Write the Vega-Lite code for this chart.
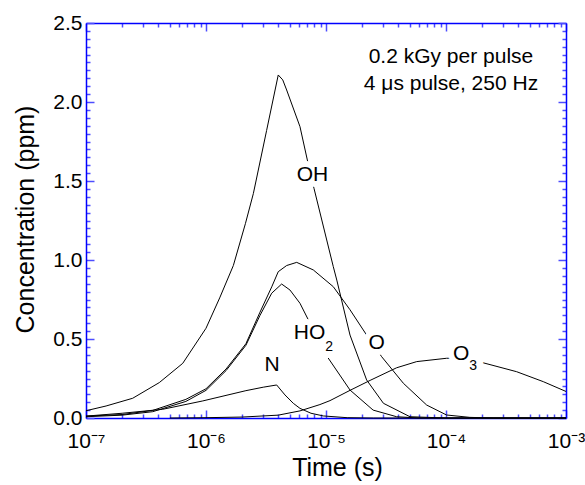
{
  "$schema": "https://vega.github.io/schema/vega-lite/v6.json",
  "width": 480,
  "height": 395,
  "autosize": {"type": "none"},
  "padding": {"left": 86, "top": 23, "right": 19, "bottom": 67},
  "background": "white",
  "config": {
    "view": {"stroke": null},
    "font": "Liberation Sans",
    "axis": {
      "domainColor": "#0000ff",
      "domainWidth": 1.5,
      "tickColor": "#4d4dff",
      "tickWidth": 1.5,
      "labelColor": "black",
      "labelFont": "Liberation Sans",
      "labelFontSize": 21,
      "titleFont": "Liberation Sans",
      "titleFontWeight": "normal",
      "titleColor": "black",
      "grid": false,
      "zindex": 1,
      "labelFlush": false,
      "labelOverlap": false
    }
  },
  "datasets": {
    "curves": [
      {"species": "OH", "t": 1e-7, "c": 0.046},
      {"species": "OH", "t": 1.47e-7, "c": 0.076},
      {"species": "OH", "t": 2.45e-7, "c": 0.125},
      {"species": "OH", "t": 4.08e-7, "c": 0.224},
      {"species": "OH", "t": 6.4e-7, "c": 0.346},
      {"species": "OH", "t": 1e-6, "c": 0.568},
      {"species": "OH", "t": 1.3e-6, "c": 0.76},
      {"species": "OH", "t": 1.69e-6, "c": 0.965},
      {"species": "OH", "t": 2.13e-6, "c": 1.23},
      {"species": "OH", "t": 2.48e-6, "c": 1.42},
      {"species": "OH", "t": 3.2e-6, "c": 1.82},
      {"species": "OH", "t": 4.0e-6, "c": 2.171},
      {"species": "OH", "t": 4.36e-6, "c": 2.14},
      {"species": "OH", "t": 4.7e-6, "c": 2.076},
      {"species": "OH", "t": 6.07e-6, "c": 1.844},
      {"species": "OH", "t": 6.99e-6, "c": 1.633},
      {"species": "OH", "t": 7.94e-6, "c": 1.454},
      {"species": "OH", "t": 1.15e-5, "c": 0.958},
      {"species": "OH", "t": 1.23e-5, "c": 0.873},
      {"species": "OH", "t": 1.585e-5, "c": 0.525},
      {"species": "OH", "t": 2.18e-5, "c": 0.241},
      {"species": "OH", "t": 3.01e-5, "c": 0.093},
      {"species": "OH", "t": 5.01e-5, "c": 0.008},
      {"species": "OH", "t": 1e-4, "c": 0},
      {"species": "OH", "t": 1e-3, "c": 0},
      {"species": "O", "t": 1e-7, "c": 0.012},
      {"species": "O", "t": 2e-7, "c": 0.022},
      {"species": "O", "t": 3.6e-7, "c": 0.048},
      {"species": "O", "t": 6.8e-7, "c": 0.118},
      {"species": "O", "t": 1e-6, "c": 0.185},
      {"species": "O", "t": 1.47e-6, "c": 0.31},
      {"species": "O", "t": 2.15e-6, "c": 0.47},
      {"species": "O", "t": 2.82e-6, "c": 0.67},
      {"species": "O", "t": 3.53e-6, "c": 0.83},
      {"species": "O", "t": 4.0e-6, "c": 0.926},
      {"species": "O", "t": 4.7e-6, "c": 0.965},
      {"species": "O", "t": 5.7e-6, "c": 0.985},
      {"species": "O", "t": 7.84e-6, "c": 0.937},
      {"species": "O", "t": 1.15e-5, "c": 0.831},
      {"species": "O", "t": 1.585e-5, "c": 0.685},
      {"species": "O", "t": 2.18e-5, "c": 0.525},
      {"species": "O", "t": 2.91e-5, "c": 0.388},
      {"species": "O", "t": 4.41e-5, "c": 0.22},
      {"species": "O", "t": 6.9e-5, "c": 0.082},
      {"species": "O", "t": 1.01e-4, "c": 0.019},
      {"species": "O", "t": 1.58e-4, "c": 0.004},
      {"species": "O", "t": 2.5e-4, "c": 0},
      {"species": "O", "t": 1e-3, "c": 0},
      {"species": "HO2", "t": 1e-7, "c": 0.008},
      {"species": "HO2", "t": 2e-7, "c": 0.018},
      {"species": "HO2", "t": 3.6e-7, "c": 0.04},
      {"species": "HO2", "t": 6.8e-7, "c": 0.105},
      {"species": "HO2", "t": 1e-6, "c": 0.175},
      {"species": "HO2", "t": 1.47e-6, "c": 0.3},
      {"species": "HO2", "t": 2.15e-6, "c": 0.46},
      {"species": "HO2", "t": 2.82e-6, "c": 0.65},
      {"species": "HO2", "t": 3.53e-6, "c": 0.79},
      {"species": "HO2", "t": 4.27e-6, "c": 0.848},
      {"species": "HO2", "t": 5.01e-6, "c": 0.81},
      {"species": "HO2", "t": 6.07e-6, "c": 0.726},
      {"species": "HO2", "t": 7.36e-6, "c": 0.6},
      {"species": "HO2", "t": 1.01e-5, "c": 0.395},
      {"species": "HO2", "t": 1.585e-5, "c": 0.177},
      {"species": "HO2", "t": 2.47e-5, "c": 0.05},
      {"species": "HO2", "t": 3.88e-5, "c": 0.008},
      {"species": "HO2", "t": 6e-5, "c": 0},
      {"species": "HO2", "t": 1e-3, "c": 0},
      {"species": "N", "t": 1e-7, "c": 0.012},
      {"species": "N", "t": 2e-7, "c": 0.03},
      {"species": "N", "t": 4.35e-7, "c": 0.055},
      {"species": "N", "t": 9.4e-7, "c": 0.108},
      {"species": "N", "t": 2.15e-6, "c": 0.173},
      {"species": "N", "t": 3.0e-6, "c": 0.195},
      {"species": "N", "t": 3.88e-6, "c": 0.209},
      {"species": "N", "t": 4.55e-6, "c": 0.146},
      {"species": "N", "t": 5.34e-6, "c": 0.093},
      {"species": "N", "t": 6.07e-6, "c": 0.061},
      {"species": "N", "t": 7.5e-6, "c": 0.03},
      {"species": "N", "t": 9.5e-6, "c": 0.013},
      {"species": "N", "t": 1.5e-5, "c": 0.002},
      {"species": "N", "t": 2.5e-5, "c": 0},
      {"species": "N", "t": 1e-3, "c": 0},
      {"species": "O3", "t": 5e-7, "c": 0},
      {"species": "O3", "t": 1e-6, "c": 0.002},
      {"species": "O3", "t": 2e-6, "c": 0.006},
      {"species": "O3", "t": 4e-6, "c": 0.018},
      {"species": "O3", "t": 6.07e-6, "c": 0.045},
      {"species": "O3", "t": 8.9e-6, "c": 0.085},
      {"species": "O3", "t": 1.08e-5, "c": 0.11},
      {"species": "O3", "t": 1.585e-5, "c": 0.175},
      {"species": "O3", "t": 2.33e-5, "c": 0.238},
      {"species": "O3", "t": 3.88e-5, "c": 0.318},
      {"species": "O3", "t": 5.7e-5, "c": 0.357},
      {"species": "O3", "t": 1.01e-4, "c": 0.378},
      {"species": "O3", "t": 1.3e-4, "c": 0.38},
      {"species": "O3", "t": 1.98e-4, "c": 0.352},
      {"species": "O3", "t": 3.88e-4, "c": 0.293},
      {"species": "O3", "t": 6.47e-4, "c": 0.23},
      {"species": "O3", "t": 1e-3, "c": 0.168}
    ],
    "labels": [
      {"label": "OH", "t": 7.72e-6, "c": 1.535},
      {"label": "HO", "t": 7.29e-6, "c": 0.541},
      {"label": "N", "t": 3.55e-6, "c": 0.337},
      {"label": "O", "t": 2.65e-5, "c": 0.473},
      {"label": "O", "t": 1.34e-4, "c": 0.403}
    ],
    "subs": [
      {"label": "2", "t": 1.06e-5, "c": 0.449},
      {"label": "3", "t": 1.68e-4, "c": 0.329}
    ],
    "notes": [
      {"label": "0.2 kGy per pulse", "t": 1.1e-4, "c": 2.247},
      {"label": "4 μs pulse, 250 Hz", "t": 1.1e-4, "c": 2.076}
    ]
  },
  "layer": [
    {
      "data": {"name": "curves"},
      "mark": {"type": "line", "color": "black", "strokeWidth": 1},
      "encoding": {
        "x": {
          "field": "t", "type": "quantitative",
          "scale": {"type": "log", "domain": [1e-7, 1e-3], "nice": false},
          "axis": {
            "orient": "bottom",
            "values": [1e-7, 2e-7, 3e-7, 4e-7, 5e-7, 6e-7, 7e-7, 8e-7, 9e-7, 1e-6, 2e-6, 3e-6, 4e-6, 5e-6, 6e-6, 7e-6, 8e-6, 9e-6, 1e-5, 2e-5, 3e-5, 4e-5, 5e-5, 6e-5, 7e-5, 8e-5, 9e-5, 1e-4, 2e-4, 3e-4, 4e-4, 5e-4, 6e-4, 7e-4, 8e-4, 9e-4, 1e-3],
            "tickSize": {"condition": {"test": "abs(log(datum.value)/LN10 - round(log(datum.value)/LN10)) < 0.01", "value": -8}, "value": -4},
            "labelExpr": "abs(log(datum.value)/LN10 - round(log(datum.value)/LN10)) < 0.01 ? '10⁻' + ['⁰','¹','²','³','⁴','⁵','⁶','⁷'][-round(log(datum.value)/LN10)] : ''",
            "labelPadding": 37,
            "labelBaseline": "alphabetic",
            "title": "Time (s)",
            "titleFontSize": 25,
            "titleX": 251,
            "titleY": 57,
            "titleBaseline": "alphabetic",
            "titleAlign": "center"
          }
        },
        "y": {
          "field": "c", "type": "quantitative",
          "scale": {"domain": [0, 2.5], "nice": false, "zero": false},
          "axis": {
            "orient": "left",
            "values": [0, 0.05, 0.1, 0.15, 0.2, 0.25, 0.3, 0.35, 0.4, 0.45, 0.5, 0.55, 0.6, 0.65, 0.7, 0.75, 0.8, 0.85, 0.9, 0.95, 1, 1.05, 1.1, 1.15, 1.2, 1.25, 1.3, 1.35, 1.4, 1.45, 1.5, 1.55, 1.6, 1.65, 1.7, 1.75, 1.8, 1.85, 1.9, 1.95, 2, 2.05, 2.1, 2.15, 2.2, 2.25, 2.3, 2.35, 2.4, 2.45, 2.5],
            "tickSize": {"condition": {"test": "abs(datum.value*2 - round(datum.value*2)) < 0.001", "value": -8}, "value": -4},
            "labelExpr": "abs(datum.value*2 - round(datum.value*2)) < 0.001 ? format(datum.value, '.1f') : ''",
            "labelPadding": 12,
            "title": "Concentration (ppm)",
            "titleFontSize": 25,
            "titleAngle": -90,
            "titleX": -53,
            "titleY": 196,
            "titleBaseline": "alphabetic",
            "titleAlign": "center"
          }
        },
        "detail": {"field": "species", "type": "nominal"}
      }
    },
    {
      "data": {"name": "labels"},
      "mark": {"type": "text", "font": "Liberation Sans", "fontSize": 21, "fill": "white", "stroke": "white", "strokeWidth": 12, "strokeJoin": "round", "baseline": "middle", "align": "center"},
      "encoding": {
        "x": {
          "field": "t", "type": "quantitative",
          "scale": {"type": "log", "domain": [1e-7, 1e-3], "nice": false},
          "axis": {
            "orient": "top",
            "values": [1e-7, 2e-7, 3e-7, 4e-7, 5e-7, 6e-7, 7e-7, 8e-7, 9e-7, 1e-6, 2e-6, 3e-6, 4e-6, 5e-6, 6e-6, 7e-6, 8e-6, 9e-6, 1e-5, 2e-5, 3e-5, 4e-5, 5e-5, 6e-5, 7e-5, 8e-5, 9e-5, 1e-4, 2e-4, 3e-4, 4e-4, 5e-4, 6e-4, 7e-4, 8e-4, 9e-4, 1e-3],
            "tickSize": {"condition": {"test": "abs(log(datum.value)/LN10 - round(log(datum.value)/LN10)) < 0.01", "value": -8}, "value": -4},
            "labels": false,
            "title": null
          }
        },
        "y": {
          "field": "c", "type": "quantitative",
          "scale": {"domain": [0, 2.5], "nice": false, "zero": false},
          "axis": {
            "orient": "right",
            "values": [0, 0.05, 0.1, 0.15, 0.2, 0.25, 0.3, 0.35, 0.4, 0.45, 0.5, 0.55, 0.6, 0.65, 0.7, 0.75, 0.8, 0.85, 0.9, 0.95, 1, 1.05, 1.1, 1.15, 1.2, 1.25, 1.3, 1.35, 1.4, 1.45, 1.5, 1.55, 1.6, 1.65, 1.7, 1.75, 1.8, 1.85, 1.9, 1.95, 2, 2.05, 2.1, 2.15, 2.2, 2.25, 2.3, 2.35, 2.4, 2.45, 2.5],
            "tickSize": {"condition": {"test": "abs(datum.value*2 - round(datum.value*2)) < 0.001", "value": -8}, "value": -4},
            "labels": false,
            "title": null
          }
        },
        "text": {"field": "label"}
      }
    },
    {
      "data": {"name": "subs"},
      "mark": {"type": "text", "font": "Liberation Sans", "fontSize": 14, "fill": "white", "stroke": "white", "strokeWidth": 14, "strokeJoin": "round", "baseline": "middle", "align": "center"},
      "encoding": {
        "x": {"field": "t", "type": "quantitative", "scale": {"type": "log", "domain": [1e-7, 1e-3], "nice": false}, "axis": null},
        "y": {"field": "c", "type": "quantitative", "scale": {"domain": [0, 2.5], "nice": false, "zero": false}, "axis": null},
        "text": {"field": "label"}
      }
    },
    {
      "data": {"name": "labels"},
      "mark": {"type": "text", "font": "Liberation Sans", "fontSize": 21, "color": "black", "baseline": "middle", "align": "center"},
      "encoding": {
        "x": {"field": "t", "type": "quantitative", "scale": {"type": "log", "domain": [1e-7, 1e-3], "nice": false}, "axis": null},
        "y": {"field": "c", "type": "quantitative", "scale": {"domain": [0, 2.5], "nice": false, "zero": false}, "axis": null},
        "text": {"field": "label"}
      }
    },
    {
      "data": {"name": "subs"},
      "mark": {"type": "text", "font": "Liberation Sans", "fontSize": 14, "color": "black", "baseline": "middle", "align": "center"},
      "encoding": {
        "x": {"field": "t", "type": "quantitative", "scale": {"type": "log", "domain": [1e-7, 1e-3], "nice": false}, "axis": null},
        "y": {"field": "c", "type": "quantitative", "scale": {"domain": [0, 2.5], "nice": false, "zero": false}, "axis": null},
        "text": {"field": "label"}
      }
    },
    {
      "data": {"name": "notes"},
      "mark": {"type": "text", "font": "Liberation Sans", "fontSize": 21, "color": "black", "baseline": "alphabetic", "align": "center"},
      "encoding": {
        "x": {"field": "t", "type": "quantitative", "scale": {"type": "log", "domain": [1e-7, 1e-3], "nice": false}, "axis": null},
        "y": {"field": "c", "type": "quantitative", "scale": {"domain": [0, 2.5], "nice": false, "zero": false}, "axis": null},
        "text": {"field": "label"}
      }
    }
  ],
  "resolve": {"axis": {"x": "independent", "y": "independent"}}
}
